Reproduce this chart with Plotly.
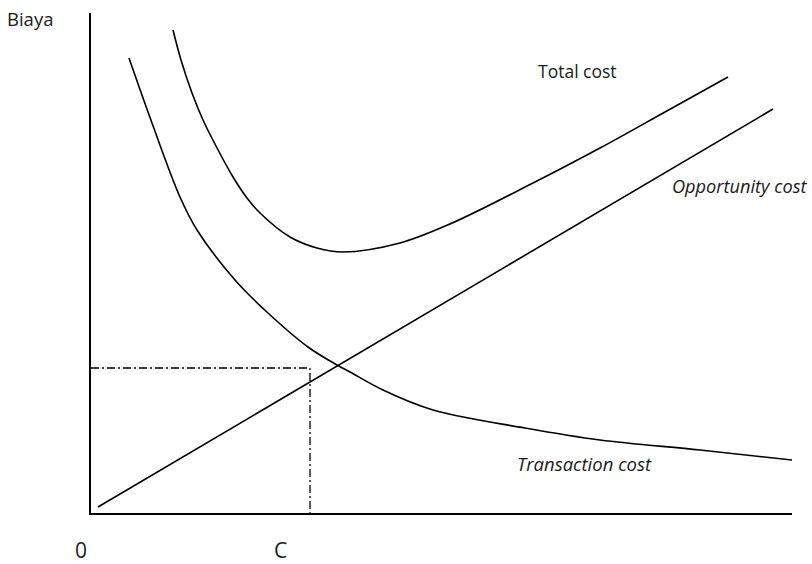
import plotly.graph_objects as go

# Data (x: quantity, y: cost), origin at axis corner
trans_x = [38, 61, 89, 106, 144, 177, 217, 246, 259, 292, 342, 434, 509, 609, 701]
trans_y = [455, 390, 316, 283, 233, 200, 166, 148, 141, 123, 103, 85, 73, 63, 53]

total_x = [82, 90, 101, 112, 125, 142, 156, 169, 199, 226, 252, 309, 359, 442, 509, 574, 637]
total_y = [483, 453, 420, 393, 367, 336, 315, 300, 276, 265, 261, 270, 289, 330, 365, 401, 436]

opp_x = [7, 682]
opp_y = [6, 404]

c_x = 219      # optimum quantity C
c_y = 145      # cost at C

X_MAX = 701
Y_MAX = 500
FONT = "Open Sans"

fig = go.Figure()
line_style = dict(color="black", width=1.6)
fig.add_trace(go.Scatter(x=trans_x, y=trans_y, mode="lines", line_shape="spline",
                         line=line_style, hoverinfo="skip"))
fig.add_trace(go.Scatter(x=total_x, y=total_y, mode="lines", line_shape="spline",
                         line=line_style, hoverinfo="skip"))
fig.add_trace(go.Scatter(x=opp_x, y=opp_y, mode="lines", line=line_style, hoverinfo="skip"))
fig.add_trace(go.Scatter(x=[0, c_x, c_x], y=[c_y, c_y, 0], mode="lines",
                         line=dict(color="black", width=1.3, dash="8px,3px,2px,3px"),
                         hoverinfo="skip"))

def ann(text, x, y, italic=False, xanchor="left", size=17.5, pad=1):
    fig.add_annotation(x=x / X_MAX, y=y / Y_MAX, xref="paper", yref="paper",
                       text=f"<i>{text}</i>" if italic else text,
                       showarrow=False, xanchor=xanchor, yanchor="middle", borderpad=pad,
                       font=dict(family=FONT, size=size, color="#1a1a1a"))

ann("Biaya", -86, 495, size=18.5)
ann("Total cost", 445, 442)
ann("Opportunity cost", 579, 327, italic=True, size=18.2)
ann("Transaction cost", 424, 50, italic=True, size=18.5)
ann("0", -10, -37, xanchor="center", size=21, pad=0)
ann("C", 189, -37, xanchor="center", size=21, pad=0)

fig.update_layout(
    width=812, height=564,
    margin=dict(l=91, r=20, t=13, b=51),
    paper_bgcolor="white", plot_bgcolor="white",
    showlegend=False,
    xaxis=dict(range=[0, X_MAX], showgrid=False, zeroline=False, showticklabels=False,
               showline=True, linecolor="black", linewidth=1.6, ticks=""),
    yaxis=dict(range=[0, Y_MAX], showgrid=False, zeroline=False, showticklabels=False,
               showline=True, linecolor="black", linewidth=1.6, ticks=""),
)

# remove the default 8px page margin so the figure fills the window exactly
fig.write_html(
    "out.html",
    config={"displayModeBar": False},
    post_script="document.body.style.margin='0';document.body.style.overflow='hidden';",
)
